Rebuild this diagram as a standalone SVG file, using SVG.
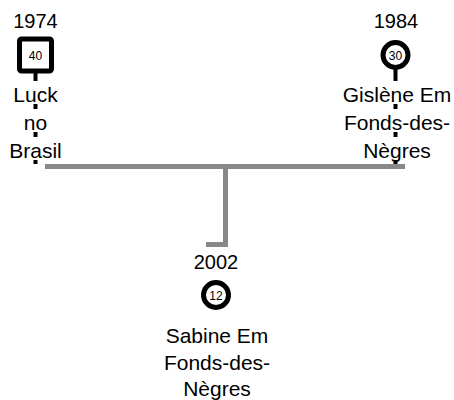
<svg xmlns="http://www.w3.org/2000/svg" width="454" height="400" viewBox="0 0 454 400">
<style>
text{font-family:"Liberation Sans",Arial,sans-serif;fill:#000;text-anchor:middle}
.yr{font-size:20px}
.lb{font-size:21px}
.num{font-size:12px}
.stem{stroke:#000;stroke-width:4;fill:none}
.bg{fill:#fff}
.mark{fill:#fff;stroke:#000;stroke-width:5}
.conn{stroke:#888;stroke-width:5;fill:none;stroke-linejoin:miter}
</style>
<rect width="454" height="400" fill="#fff"/>
<g id="connectors">
<path class="conn" d="M45 166.5H405"/>
<path class="conn" d="M225.5 166.5V244.5H206"/>
</g>
<g id="node-luck">
<text class="yr" x="35.5" y="28">1974</text>
<line class="stem" x1="35.5" y1="72" x2="35.5" y2="164"/>
<rect class="mark" x="19.5" y="39" width="32" height="32" rx="2"/>
<text class="num" x="35.5" y="59.5">40</text>
<rect class="bg" x="10" y="81" width="52" height="23"/>
<text class="lb" x="35.5" y="102">Luck</text>
<rect class="bg" x="10" y="109" width="52" height="23"/>
<text class="lb" x="35.5" y="130">no</text>
<rect class="bg" x="4" y="137" width="64" height="23"/>
<text class="lb" x="35.5" y="158">Brasil</text>
</g>
<g id="node-gislene">
<text class="yr" x="396" y="28">1984</text>
<line class="stem" x1="395.5" y1="68" x2="395.5" y2="164"/>
<circle class="mark" cx="395.5" cy="55" r="12.5"/>
<text class="num" x="395.5" y="59.5">30</text>
<rect class="bg" x="340" y="81" width="114" height="23"/>
<text class="lb" x="397" y="102">Gislène Em</text>
<rect class="bg" x="340" y="109" width="114" height="23"/>
<text class="lb" x="397" y="130">Fonds-des-</text>
<rect class="bg" x="350" y="137" width="94" height="23"/>
<text class="lb" x="397" y="158">Nègres</text>
</g>
<g id="node-sabine">
<text class="yr" x="216" y="269">2002</text>
<circle class="mark" cx="216" cy="295" r="12.5"/>
<text class="num" x="216" y="299.5">12</text>
<text class="lb" x="217" y="343">Sabine Em</text>
<text class="lb" x="217" y="370">Fonds-des-</text>
<text class="lb" x="217" y="396">Nègres</text>
</g>
</svg>
